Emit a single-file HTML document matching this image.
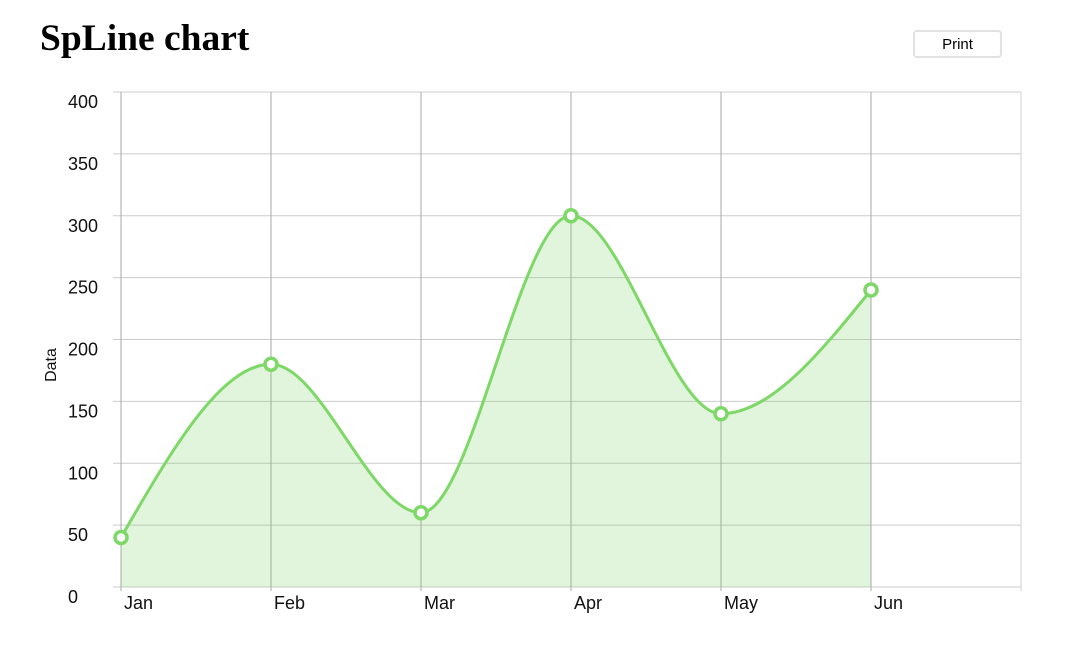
<!DOCTYPE html>
<html><head><meta charset="utf-8"><style>
body{margin:0;background:#fff;width:1077px;height:664px;overflow:hidden;font-family:"Liberation Sans",sans-serif}
h1{position:absolute;left:40px;top:17px;margin:0;font-family:"Liberation Serif",serif;font-size:37.5px;font-weight:bold}
button{position:absolute;left:913px;top:30px;width:89px;height:28px;background:#fff;border:2px solid #e2e2e2;border-radius:4px;font-family:"Liberation Sans",sans-serif;font-size:15px}
svg{position:absolute;left:0;top:0}
</style></head><body>
<h1>SpLine chart</h1>
<button>Print</button>
<svg id="c" width="1077" height="664"></svg>
<script>
const categories=["Jan","Feb","Mar","Apr","May","Jun"];
const values=[40,180,60,300,140,240];
const yTicks=[0,50,100,150,200,250,300,350,400];
const svg=document.getElementById('c');
const NS='http://www.w3.org/2000/svg';
const x0=121,step=150,yb=587,yt=92,ymax=400;
const X=i=>x0+i*step, Y=v=>yb-(v/ymax)*(yb-yt);
function mk(t,a,p){const e=document.createElementNS(NS,t);for(const k in a)e.setAttribute(k,a[k]);(p||svg).appendChild(e);return e;}
yTicks.forEach(t=>{
 const l=mk('line',{x1:113,x2:1021,y1:Y(t),y2:Y(t),stroke:'#cccccc','stroke-width':1});
 
 
 const tx=mk('text',{x:68,y:Y(t)+16,'font-size':18,fill:'#111'});tx.textContent=t;
 
 
});
for(let i=0;i<=categories.length;i++){
 const l=mk('line',{x1:X(i),x2:X(i),y1:yt,y2:yb+4,stroke:i<categories.length?'#a8a8a8':'#d0d0d0','stroke-width':1});
 
 
}
categories.forEach((c,i)=>{
 const t=mk('text',{x:X(i)+3,y:609,'font-size':18,fill:'#111'});t.textContent=c;
 
 
});
const yl=mk('text',{x:0,y:0,'font-size':16,fill:'#111','text-anchor':'middle',transform:'translate(56,365) rotate(-90)'});yl.textContent='Data';


const px=values.map((v,i)=>X(i)),py=values.map(Y);
const n=px.length,d=[],m=[];
for(let i=0;i<n-1;i++)d.push((py[i+1]-py[i])/(px[i+1]-px[i]));
for(let i=0;i<n;i++){
 if(i===0)m.push(d[0]);else if(i===n-1)m.push(d[n-2]);
 else m.push(d[i-1]*d[i]<=0?0:(3*(step+step))/((2*step+step)/d[i-1]+(step+2*step)/d[i]));
}
m[0]=(3*d[0]-m[1])/2;m[n-1]=(3*d[n-2]-m[n-2])/2;
let p='M'+px[0]+','+py[0];
for(let i=0;i<n-1;i++){const h=step/3;p+=' C'+(px[i]+h)+','+(py[i]+m[i]*h)+' '+(px[i+1]-h)+','+(py[i+1]-m[i+1]*h)+' '+px[i+1]+','+py[i+1];}
const area=mk('path',{d:p+' L'+px[n-1]+','+yb+' L'+px[0]+','+yb+' Z',fill:'rgba(120,210,100,0.22)'});


const line=mk('path',{d:p,fill:'none',stroke:'#7ed867','stroke-width':3});


values.forEach((v,i)=>{
 const c=mk('circle',{cx:X(i),cy:Y(v),r:6,fill:'#fff',stroke:'#7ed867','stroke-width':3.5});
 
 
});
</script>
</body></html>
